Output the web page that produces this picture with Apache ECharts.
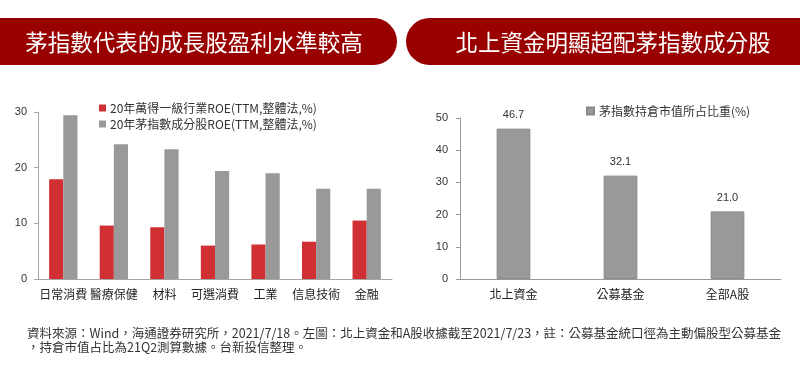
<!DOCTYPE html>
<html><head><meta charset="utf-8">
<script src="https://cdn.jsdelivr.net/npm/echarts@6/dist/echarts.min.js"></script>
<style>html,body{margin:0;padding:0;background:#fff}#c{width:800px;height:370px}</style>
</head><body><div id="c"></div>
<script>
const leftCategories = ['日常消費','醫療保健','材料','可選消費','工業','信息技術','金融'];
const industryROE = [17.9, 9.6, 9.3, 6.0, 6.2, 6.7, 10.5];
const maotaiROE = [29.4, 24.2, 23.3, 19.4, 19.0, 16.2, 16.2];
const leftSeriesNames = ['20年萬得一級行業ROE(TTM,整體法,%)','20年茅指數成分股ROE(TTM,整體法,%)'];
const rightCategories = ['北上資金','公募基金','全部A股'];
const holdingShare = [46.7, 32.1, 21.0];
const rightSeriesName = '茅指數持倉市值所占比重(%)';
const titleLeft = '茅指數代表的成長股盈利水準較高';
const titleRight = '北上資金明顯超配茅指數成分股';
const note1 = '資料來源：Wind，海通證券研究所，2021/7/18。左圖：北上資金和A股收據截至2021/7/23，註：公募基金統口徑為主動偏股型公募基金';
const note2 = '，持倉市值占比為21Q2測算數據。台新投信整理。';

const FONT = '"Noto Sans CJK TC","Noto Sans",sans-serif';
const chart = echarts.init(document.getElementById('c'));
const axisLabelY = {color:'#333', fontSize:11, fontFamily:'Arial,"Liberation Sans",sans-serif'};
chart.setOption({
  animation:false,
  textStyle:{fontFamily:FONT},
  graphic:[
    {type:'rect', shape:{x:-30,y:18,width:427,height:47,r:[0,23.5,23.5,0]}, style:{fill:'#990000'}},
    {type:'rect', shape:{x:406,y:18,width:430,height:47,r:[23.5,0,0,23.5]}, style:{fill:'#990000'}},
    {type:'text', x:194, y:42, style:{text:titleLeft, fill:'#fff', font:'22.5px '+FONT, textAlign:'center', textVerticalAlign:'middle'}},
    {type:'text', x:613, y:42, style:{text:titleRight, fill:'#fff', font:'22.5px '+FONT, textAlign:'center', textVerticalAlign:'middle'}},
    {type:'text', x:27, y:333, style:{text:note1, fill:'#333', font:'12.5px '+FONT, textVerticalAlign:'middle'}},
    {type:'text', x:27, y:347, style:{text:note2, fill:'#333', font:'12.5px '+FONT, textVerticalAlign:'middle'}}
  ],
  legend:[
    {left:94, top:97, orient:'vertical', itemWidth:7, itemHeight:7, itemGap:4, icon:'rect',
     textStyle:{color:'#333', fontSize:12, fontFamily:FONT, padding:[0,0,0,-1]},
     data:leftSeriesNames},
    {left:581, top:100, itemWidth:7, itemHeight:7, icon:'rect',
     textStyle:{color:'#333', fontSize:12, fontFamily:FONT},
     data:[rightSeriesName]}
  ],
  grid:[
    {left:38, right:408, top:112, bottom:91},
    {left:460, right:19, top:118, bottom:91}
  ],
  xAxis:[
    {type:'category', gridIndex:0, data:leftCategories,
     axisLine:{lineStyle:{color:'#a6a6a6'}}, axisTick:{length:4, lineStyle:{color:'#a6a6a6'}},
     axisLabel:{color:'#222', fontSize:12, margin:9, interval:0, fontFamily:FONT}},
    {type:'category', gridIndex:1, data:rightCategories,
     axisLine:{lineStyle:{color:'#999'}}, axisTick:{length:4, lineStyle:{color:'#999'}},
     axisLabel:{color:'#222', fontSize:12, margin:9, interval:0, fontFamily:FONT}}
  ],
  yAxis:[
    {type:'value', gridIndex:0, min:0, max:30, interval:10,
     axisLine:{show:true, lineStyle:{color:'#a6a6a6'}}, axisTick:{show:true, length:4, lineStyle:{color:'#a6a6a6'}},
     splitLine:{show:false}, axisLabel:Object.assign({margin:11}, axisLabelY)},
    {type:'value', gridIndex:1, min:0, max:50, interval:10,
     axisLine:{show:true, lineStyle:{color:'#999'}}, axisTick:{show:true, length:4, lineStyle:{color:'#999'}},
     splitLine:{show:false}, axisLabel:Object.assign({margin:12}, axisLabelY)}
  ],
  series:[
    {name:leftSeriesNames[0], type:'bar', xAxisIndex:0, yAxisIndex:0, data:industryROE,
     barWidth:'28%', barGap:'0%', itemStyle:{color:'#d03033'}},
    {name:leftSeriesNames[1], type:'bar', xAxisIndex:0, yAxisIndex:0, data:maotaiROE,
     barWidth:'28%', barGap:'0%', itemStyle:{color:'#999999'}},
    {name:rightSeriesName, type:'bar', xAxisIndex:1, yAxisIndex:1, data:holdingShare,
     barWidth:'31.5%', itemStyle:{color:'#999999', borderColor:'#8a8a8a', borderWidth:1},
     label:{show:true, position:'top', distance:8, color:'#333', fontSize:11,
            fontFamily:'Arial,"Liberation Sans",sans-serif',
            formatter:p=>p.value.toFixed(1)}}
  ]
});
</script></body></html>
